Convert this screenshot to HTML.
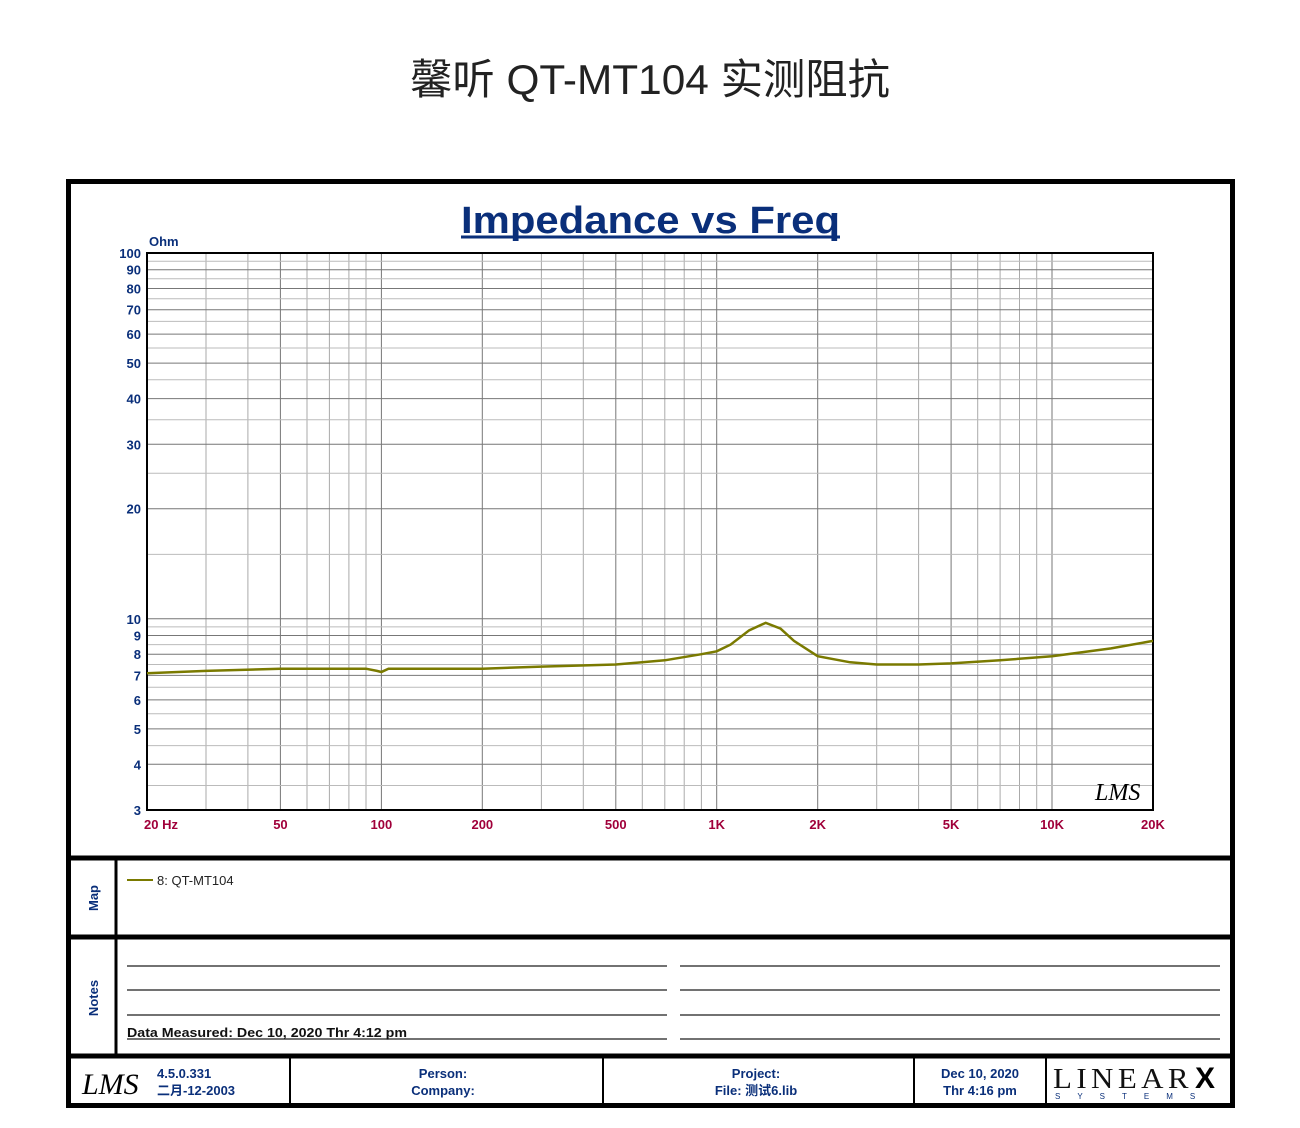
<!DOCTYPE html>
<html><head><meta charset="utf-8"><style>
body{margin:0;background:#fff;width:1300px;height:1123px;overflow:hidden}
svg text{font-family:"Liberation Sans","Noto Sans CJK SC",sans-serif}
</style></head><body>
<svg id="s" width="1300" height="1123" xmlns="http://www.w3.org/2000/svg">
<text x="650" y="94" font-size="42" text-anchor="middle" fill="#222" textLength="480" lengthAdjust="spacingAndGlyphs" style="font-family:'Liberation Sans','Noto Sans CJK SC',sans-serif">馨听 QT-MT104 实测阻抗</text>
<rect x="68.5" y="181.5" width="1164" height="924" fill="#fff" stroke="#000" stroke-width="5"/>
<line x1="68" y1="858" x2="1233" y2="858" stroke="#000" stroke-width="5"/>
<line x1="68" y1="937" x2="1233" y2="937" stroke="#000" stroke-width="5"/>
<line x1="68" y1="1056" x2="1233" y2="1056" stroke="#000" stroke-width="5"/>
<line x1="116" y1="858" x2="116" y2="1056" stroke="#000" stroke-width="3"/>
<line x1="290" y1="1056" x2="290" y2="1106" stroke="#000" stroke-width="2"/>
<line x1="603" y1="1056" x2="603" y2="1106" stroke="#000" stroke-width="2"/>
<line x1="914" y1="1056" x2="914" y2="1106" stroke="#000" stroke-width="2"/>
<line x1="1046" y1="1056" x2="1046" y2="1106" stroke="#000" stroke-width="2"/>
<text x="461" y="233" font-size="38" font-weight="bold" fill="#0a2f7a" textLength="379" lengthAdjust="spacingAndGlyphs">Impedance vs Freq</text>
<line x1="461" y1="237" x2="840" y2="237" stroke="#0a2f7a" stroke-width="3"/>
<text x="149" y="246" font-size="13" font-weight="bold" fill="#0a2f7a">Ohm</text>
<g id="grid"></g>
<rect x="147" y="253" width="1006" height="557" fill="none" stroke="#000" stroke-width="2"/>
<path id="curve" fill="none" stroke="#7a7a00" stroke-width="2.5"/>
<text x="1095" y="800" font-size="24" font-style="italic" fill="#000" style="font-family:'Liberation Serif',serif">LMS</text>
<g font-size="13" font-weight="bold" fill="#a0003a" text-anchor="middle" id="xl"></g>
<g font-size="13" font-weight="bold" fill="#0a2f7a" text-anchor="end" id="yl"></g>
<line x1="127" y1="880" x2="153" y2="880" stroke="#7a7a00" stroke-width="2"/>
<text x="157" y="885" font-size="13" fill="#222">8: QT-MT104</text>
<text transform="translate(98,898) rotate(-90)" font-size="13" font-weight="bold" fill="#0a2f7a" text-anchor="middle">Map</text>
<text transform="translate(98,998) rotate(-90)" font-size="13" font-weight="bold" fill="#0a2f7a" text-anchor="middle">Notes</text>
<g stroke="#444" stroke-width="1.5">
<line x1="127" y1="966" x2="667" y2="966"/><line x1="127" y1="990" x2="667" y2="990"/><line x1="127" y1="1015" x2="667" y2="1015"/><line x1="127" y1="1039" x2="667" y2="1039"/>
<line x1="680" y1="966" x2="1220" y2="966"/><line x1="680" y1="990" x2="1220" y2="990"/><line x1="680" y1="1015" x2="1220" y2="1015"/><line x1="680" y1="1039" x2="1220" y2="1039"/>
</g>
<text x="127" y="1037" font-size="12.5" font-weight="bold" fill="#111" textLength="280" lengthAdjust="spacingAndGlyphs">Data Measured: Dec 10, 2020  Thr  4:12 pm</text>
<text x="82" y="1094" font-size="30" font-style="italic" fill="#000" style="font-family:'Liberation Serif',serif">LMS</text>
<g font-size="13" font-weight="bold" fill="#0a2f7a">
<text x="157" y="1078">4.5.0.331</text><text x="157" y="1095">二月-12-2003</text>
<text x="443" y="1078" text-anchor="middle">Person:</text><text x="443" y="1095" text-anchor="middle">Company:</text>
<text x="756" y="1078" text-anchor="middle">Project:</text><text x="756" y="1095" text-anchor="middle">File: 测试6.lib</text>
<text x="980" y="1078" text-anchor="middle">Dec 10, 2020</text><text x="980" y="1095" text-anchor="middle">Thr  4:16 pm</text>
</g>
<text x="1053" y="1088" font-size="28" fill="#111" letter-spacing="4" textLength="140" lengthAdjust="spacingAndGlyphs" style="font-family:'Liberation Serif',serif">LINEAR</text>
<text x="1195" y="1088" font-size="30" font-weight="bold" fill="#000">X</text>
<text x="1055" y="1099" font-size="8" fill="#0a2f7a" letter-spacing="17">SYSTEMS</text>
</svg>
<script>
function X(f){return 147+335.33*Math.log10(f/20);}
function Y(v){return 810-365.75*Math.log10(v/3);}
var g=document.getElementById('grid'),h='';
[1,2,3,4,5,6,7,8,9].forEach(function(m){[10,100,1000,10000].forEach(function(d){var f=m*d;if(f<20||f>20000)return;var x=X(f).toFixed(1);var c=(m==1||m==2||m==5)?'#777':'#aaa';h+='<line x1="'+x+'" y1="253" x2="'+x+'" y2="810" stroke="'+c+'" stroke-width="1"/>';});});
[3,3.5,4,4.5,5,5.5,6,6.5,7,7.5,8,8.5,9,9.5,10,15,20,25,30,35,40,45,50,55,60,65,70,75,80,85,90,95,100].forEach(function(v){var y=Y(v).toFixed(1);var maj=(v==Math.round(v)&&(v<=10||v%10==0));h+='<line x1="147" y1="'+y+'" x2="1153" y2="'+y+'" stroke="'+(maj?'#777':'#bbb')+'" stroke-width="1"/>';});
g.innerHTML=h;
var xl='';[[20,'20 Hz',161],[50,'50'],[100,'100'],[200,'200'],[500,'500'],[1000,'1K'],[2000,'2K'],[5000,'5K'],[10000,'10K'],[20000,'20K']].forEach(function(a){xl+='<text x="'+(a[2]||X(a[0]))+'" y="829">'+a[1]+'</text>';});
document.getElementById('xl').innerHTML=xl;
var yl='';[3,4,5,6,7,8,9,10,20,30,40,50,60,70,80,90,100].forEach(function(v){yl+='<text x="141" y="'+(Y(v)+5)+'">'+v+'</text>';});
document.getElementById('yl').innerHTML=yl;
var pts=[[20,7.1],[30,7.2],[50,7.3],[90,7.3],[97,7.2],[100,7.15],[105,7.3],[200,7.3],[300,7.4],[500,7.5],[700,7.7],[900,8.0],[1000,8.15],[1100,8.5],[1250,9.3],[1400,9.75],[1550,9.4],[1700,8.7],[2000,7.9],[2500,7.6],[3000,7.5],[4000,7.5],[5000,7.55],[7000,7.7],[10000,7.9],[15000,8.3],[20000,8.7]];
document.getElementById('curve').setAttribute('d',pts.map(function(p,i){return (i?'L':'M')+X(p[0]).toFixed(1)+' '+Y(p[1]).toFixed(1);}).join(' '));
</script>
</body></html>
